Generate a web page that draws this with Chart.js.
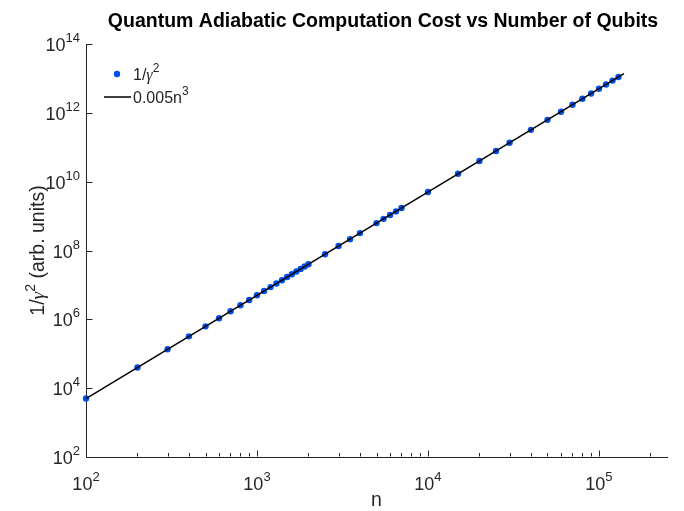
<!DOCTYPE html>
<html><head><meta charset="utf-8">
<script src="https://cdn.jsdelivr.net/npm/chart.js@4.4.1/dist/chart.umd.min.js"></script>
<style>html,body{margin:0;padding:0;background:#fff;}canvas{display:block;}</style>
</head><body>
<canvas id="c" width="684" height="511"></canvas>
<script>
// ---- data ----
const nValues = [100,200,300,400,500,600,700,800,900,1000,1100,1200,1300,1400,1500,1600,1700,1800,1900,2000,
  2500,3000,3500,4000,5000,5500,6000,6500,7000,10000,15000,20000,25000,30000,40000,50000,60000,70000,80000,90000,
  100000,110000,120000,130000];
const invGapSq = [5.0e3,4.0e4,1.35e5,3.2e5,6.25e5,1.08e6,1.72e6,2.56e6,3.65e6,5.0e6,6.66e6,8.64e6,1.10e7,1.37e7,1.69e7,2.05e7,2.46e7,2.92e7,3.43e7,4.0e7,
  7.81e7,1.35e8,2.14e8,3.2e8,6.25e8,8.32e8,1.08e9,1.37e9,1.72e9,5.0e9,1.69e10,4.0e10,7.81e10,1.35e11,3.2e11,6.25e11,1.08e12,1.72e12,2.56e12,3.65e12,
  5.0e12,6.66e12,8.64e12,1.10e13];
const fitN = [100, 140000];
const fitValues = [5.0e3, 1.372e13];
const xMajorTicks = [1e2,1e3,1e4,1e5];
const xMinorTicks = [200,300,400,500,600,700,800,900,2000,3000,4000,5000,6000,7000,8000,9000,
  20000,30000,40000,50000,60000,70000,80000,90000,200000];
const yTicks = [1e2,1e4,1e6,1e8,1e10,1e12,1e14];
const titleText = 'Quantum Adiabatic Computation Cost vs Number of Qubits';
const xLabelText = 'n';
const seriesNames = ['1/γ²', '0.005n³'];

const INK = '#262626';
const DOT = '#0050e8';
const SANS = '"Liberation Sans", Arial, Helvetica, sans-serif';

function drawRich(ctx, segs, x, y, align) {
  let w = 0;
  for (const s of segs) { ctx.font = s.font; s.w = ctx.measureText(s.t).width; w += s.w; }
  let cx = align === 'center' ? x - w/2 : (align === 'right' ? x - w : x);
  for (const s of segs) {
    ctx.font = s.font; ctx.textAlign = 'left'; ctx.textBaseline = 'alphabetic';
    ctx.fillText(s.t, cx, y - (s.dy||0)); cx += s.w;
  }
}
function pow10(e) {
  return [{t:'10', font:'18px '+SANS}, {t:String(e), font:'13px '+SANS, dy:9}];
}

const decor = {
  id: 'decor',
  afterDraw(chart) {
    const ctx = chart.ctx, xs = chart.scales.x, ys = chart.scales.y, ca = chart.chartArea;
    ctx.save();
    ctx.strokeStyle = INK; ctx.lineWidth = 1;
    ctx.beginPath();
    const xb = Math.round(ca.bottom) - 0.5;
    const yl = Math.round(ca.left) + 0.5;
    for (const v of xMajorTicks) { const p = Math.round(xs.getPixelForValue(v)) + 0.5; ctx.moveTo(p, xb); ctx.lineTo(p, xb - 6); }
    for (const v of xMinorTicks) { const p = Math.round(xs.getPixelForValue(v)) + 0.5; ctx.moveTo(p, xb); ctx.lineTo(p, xb - 3.5); }
    for (const v of yTicks) { const p = Math.round(ys.getPixelForValue(v)) + 0.5; ctx.moveTo(yl, p); ctx.lineTo(yl + 6, p); }
    ctx.stroke();
    ctx.fillStyle = INK;
    for (const v of xMajorTicks) {
      drawRich(ctx, pow10(Math.round(Math.log10(v))), xs.getPixelForValue(v), ca.bottom + 33, 'center');
    }
    for (const v of yTicks) {
      drawRich(ctx, pow10(Math.round(Math.log10(v))), ca.left - 6, ys.getPixelForValue(v) + 7, 'right');
    }
    // title
    ctx.fillStyle = '#000';
    drawRich(ctx, [{t:titleText, font:'bold 19.5px '+SANS}], 383, 27, 'center');
    ctx.fillStyle = INK;
    // x label
    drawRich(ctx, [{t:xLabelText, font:'19.5px '+SANS}], (ca.left + ca.right)/2, 506, 'center');
    // y label
    ctx.save();
    ctx.translate(44, (ca.top + ca.bottom)/2);
    ctx.rotate(-Math.PI/2);
    drawRich(ctx, [{t:'1/', font:'19.5px '+SANS}, {t:'γ', font:'italic 19.5px "Liberation Serif", serif'},
      {t:'2', font:'14px '+SANS, dy:9}, {t:' (arb. units)', font:'19.5px '+SANS}], 0, 0, 'center');
    ctx.restore();
    // legend
    const ds0 = chart.data.datasets[0], ds1 = chart.data.datasets[1];
    ctx.fillStyle = ds0.backgroundColor;
    ctx.beginPath(); ctx.arc(117, 74, 3.2, 0, Math.PI*2); ctx.fill();
    ctx.fillStyle = INK;
    drawRich(ctx, [{t:'1/', font:'16px '+SANS}, {t:'γ', font:'italic 16px "Liberation Serif", serif'},
      {t:'2', font:'12px '+SANS, dy:8}], 133, 80, 'left');
    ctx.strokeStyle = ds1.borderColor; ctx.lineWidth = 1.5;
    ctx.beginPath(); ctx.moveTo(104, 97); ctx.lineTo(131, 97); ctx.stroke();
    drawRich(ctx, [{t:'0.005n', font:'16px '+SANS}, {t:'3', font:'12px '+SANS, dy:8}], 133, 103, 'left');
    ctx.restore();
  }
};

new Chart(document.getElementById('c'), {
  type: 'scatter',
  data: {
    datasets: [
      { label: seriesNames[0], data: nValues.map((n,i)=>({x:n, y:invGapSq[i]})),
        backgroundColor: DOT, borderColor: DOT, pointRadius: 3.2, pointBorderWidth: 0, showLine: false, order: 2, clip: false },
      { label: seriesNames[1], data: fitN.map((n,i)=>({x:n, y:fitValues[i]})),
        borderColor: '#000', backgroundColor: '#000', borderWidth: 1.5, pointRadius: 0, showLine: true, order: 1, clip: false }
    ]
  },
  options: {
    responsive: false, animation: false, devicePixelRatio: 1,
    layout: { padding: { left: 86, right: 17, top: 44, bottom: 54 } },
    plugins: { legend: { display: false }, title: { display: false }, tooltip: { enabled: false } },
    scales: {
      x: { type: 'logarithmic', min: 100, max: 250000,
        grid: { display: false, drawTicks: false }, ticks: { display: false },
        border: { display: true, color: INK, width: 1 },
        afterFit(s) { s.height = 0; } },
      y: { type: 'logarithmic', min: 1e2, max: 1e14,
        grid: { display: false, drawTicks: false }, ticks: { display: false },
        border: { display: true, color: INK, width: 1 },
        afterFit(s) { s.width = 0; } }
    }
  },
  plugins: [decor]
});
</script>
</body></html>
